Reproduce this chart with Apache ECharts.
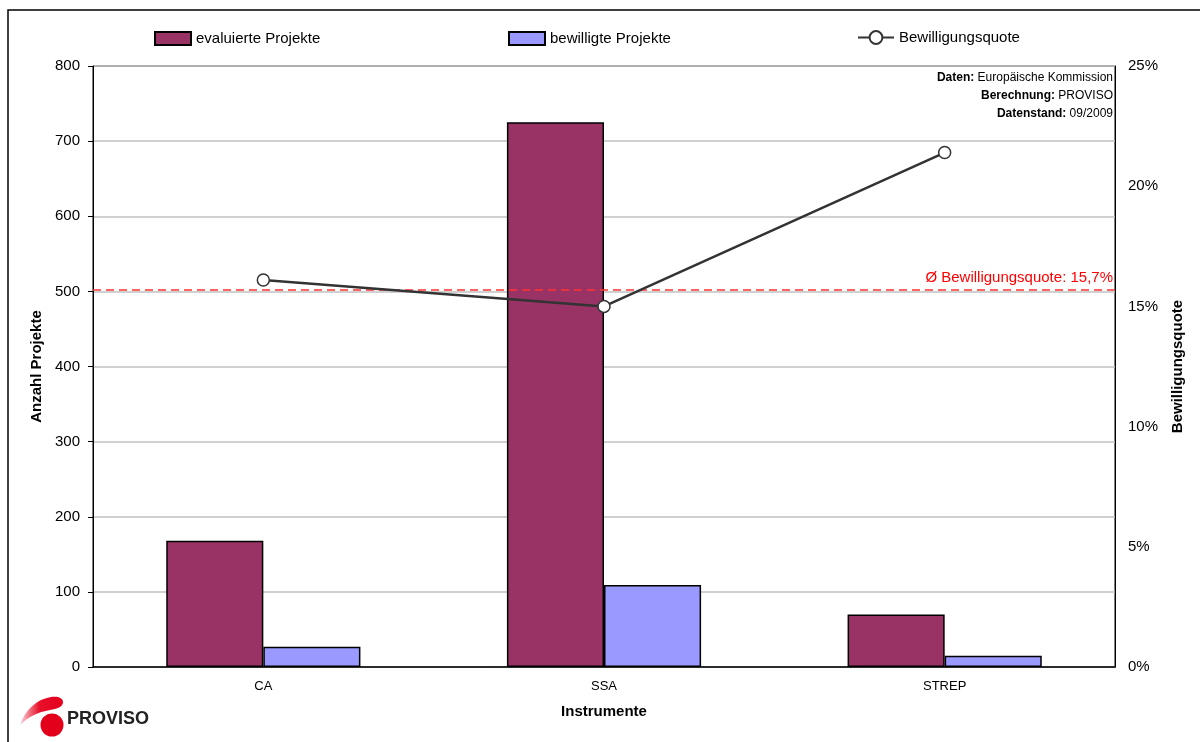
<!DOCTYPE html>
<html>
<head>
<meta charset="utf-8">
<script src="https://cdn.jsdelivr.net/npm/echarts@6/dist/echarts.min.js"></script>
<style>
  html, body { margin: 0; padding: 0; background: #fff; }
  #chart { width: 1200px; height: 742px; }
</style>
</head>
<body>
<div id="chart"></div>
<script>
// Instruments and project counts
const categories = ['CA', 'SSA', 'STREP'];
const evaluated = [168, 725, 70];
const approved = [27, 109, 15];
// Approval rate in percent per instrument
const approvalRate = [16.1, 15.0, 21.4];
// Overall approval rate in percent
const averageRate = 15.7;

const leftTicks = { min: 0, max: 800, interval: 100 };
const rightTicks = { min: 0, max: 25, interval: 5 };

const FONT = '"Liberation Sans", Arial, sans-serif';

// Red swoosh of the PROVISO logo
echarts.graphic.registerShape('logoSwoosh', echarts.graphic.extendShape({
  shape: {},
  buildPath(ctx) {
    ctx.moveTo(20, 725);
    ctx.bezierCurveTo(25, 710, 37, 699, 51, 697);
    ctx.bezierCurveTo(58, 696, 63, 698, 63, 702);
    ctx.bezierCurveTo(63, 707, 57, 709, 50, 710);
    ctx.bezierCurveTo(38, 712, 28, 717, 20, 725);
    ctx.closePath();
  }
}));

const chart = echarts.init(document.getElementById('chart'), null, { renderer: 'canvas' });

const legendText = { fontFamily: FONT, fontSize: 15, color: '#000' };
const noteRich = { b: { fontWeight: 'bold', fontFamily: FONT, fontSize: 12, fill: '#000' } };

function noteLine(top, text) {
  return {
    type: 'text', right: 87, top: top, silent: true,
    style: { text: text, fontFamily: FONT, fontSize: 12, fill: '#000', rich: noteRich }
  };
}

chart.setOption({
  backgroundColor: '#fff',
  animation: false,
  textStyle: { fontFamily: FONT },
  grid: {
    left: 93, right: 85, top: 66, bottom: 75,
    show: true, borderColor: '#000', borderWidth: 1
  },
  legend: [
    { data: ['evaluierte Projekte'], icon: 'rect', left: 154, top: 31, itemWidth: 36, itemHeight: 13, textStyle: legendText, padding: 0 },
    { data: ['bewilligte Projekte'], icon: 'rect', left: 508, top: 31, itemWidth: 36, itemHeight: 13, textStyle: legendText, padding: 0 },
    { data: ['Bewilligungsquote'], left: 857, top: 30, itemWidth: 36, itemHeight: 16, textStyle: legendText, padding: 0 }
  ],
  xAxis: {
    type: 'category',
    data: categories,
    name: 'Instrumente',
    nameLocation: 'middle',
    nameGap: 37,
    nameTextStyle: { fontFamily: FONT, fontSize: 15, fontWeight: 'bold', color: '#000' },
    axisLine: { lineStyle: { color: '#000', width: 1.5 } },
    axisTick: { show: false },
    axisLabel: { fontFamily: FONT, fontSize: 13, color: '#000', margin: 13 }
  },
  yAxis: [
    {
      type: 'value',
      min: leftTicks.min, max: leftTicks.max, interval: leftTicks.interval,
      name: 'Anzahl Projekte',
      nameLocation: 'middle',
      nameGap: 48,
      nameRotate: 90,
      nameTextStyle: { fontFamily: FONT, fontSize: 15, fontWeight: 'bold', color: '#000' },
      axisLine: { show: true, lineStyle: { color: '#000', width: 1 } },
      axisTick: { show: true, length: 5, lineStyle: { color: '#000' } },
      axisLabel: { fontFamily: FONT, fontSize: 15, color: '#000', margin: 13 },
      splitLine: { show: true, lineStyle: { color: '#c0c0c0', width: 1.5 } }
    },
    {
      type: 'value',
      min: rightTicks.min, max: rightTicks.max, interval: rightTicks.interval,
      name: 'Bewilligungsquote',
      nameLocation: 'middle',
      nameGap: 55,
      nameRotate: 90,
      nameTextStyle: { fontFamily: FONT, fontSize: 15, fontWeight: 'bold', color: '#000' },
      axisLine: { show: true, lineStyle: { color: '#000', width: 1 } },
      axisTick: { show: false },
      axisLabel: { fontFamily: FONT, fontSize: 15, color: '#000', margin: 13, formatter: '{value}%' },
      splitLine: { show: false }
    }
  ],
  series: [
    {
      name: 'evaluierte Projekte',
      type: 'bar',
      data: evaluated,
      barGap: '0%',
      barCategoryGap: '43%',
      itemStyle: { color: '#993366', borderColor: '#000', borderWidth: 1.5 }
    },
    {
      name: 'bewilligte Projekte',
      type: 'bar',
      data: approved,
      itemStyle: { color: '#9999ff', borderColor: '#000', borderWidth: 1.5 }
    },
    {
      name: 'Bewilligungsquote',
      type: 'line',
      yAxisIndex: 1,
      data: approvalRate,
      symbol: 'circle',
      symbolSize: 12,
      lineStyle: { color: '#333333', width: 2.5 },
      itemStyle: { color: '#ffffff', borderColor: '#333333', borderWidth: 1.5 },
      z: 5,
      markLine: {
        silent: true,
        symbol: 'none',
        lineStyle: { color: '#ff3333', type: [8, 5], width: 1.5 },
        label: {
          position: 'insideEndTop',
          formatter: 'Ø Bewilligungsquote: 15,7%',
          fontFamily: FONT, fontSize: 15, color: '#ff0000',
          distance: [2, 4]
        },
        data: [{ yAxis: averageRate }]
      }
    }
  ],
  graphic: [
    // outer frame
    {
      type: 'rect', silent: true,
      shape: { x: 8, y: 10, width: 1220, height: 800 },
      style: { fill: 'none', stroke: '#000', lineWidth: 1.5 }
    },
    // source note
    noteLine(72, '{b|Daten:} Europäische Kommission'),
    noteLine(90, '{b|Berechnung:} PROVISO'),
    noteLine(108, '{b|Datenstand:} 09/2009'),
    // PROVISO logo
    {
      type: 'logoSwoosh', silent: true,
      style: {
        fill: new echarts.graphic.LinearGradient(20, 0, 63, 0, [
          { offset: 0, color: 'rgba(230,0,30,0.15)' },
          { offset: 0.45, color: '#e8102a' },
          { offset: 1, color: '#e3001b' }
        ], true)
      }
    },
    {
      type: 'circle', silent: true,
      shape: { cx: 52, cy: 725, r: 11.5 },
      style: { fill: '#e3001b' }
    },
    {
      type: 'text', left: 67, top: 710, silent: true,
      style: { text: 'PROVISO', fontFamily: FONT, fontSize: 18, fontWeight: 'bold', fill: '#222' }
    }
  ]
});
</script>
</body>
</html>
